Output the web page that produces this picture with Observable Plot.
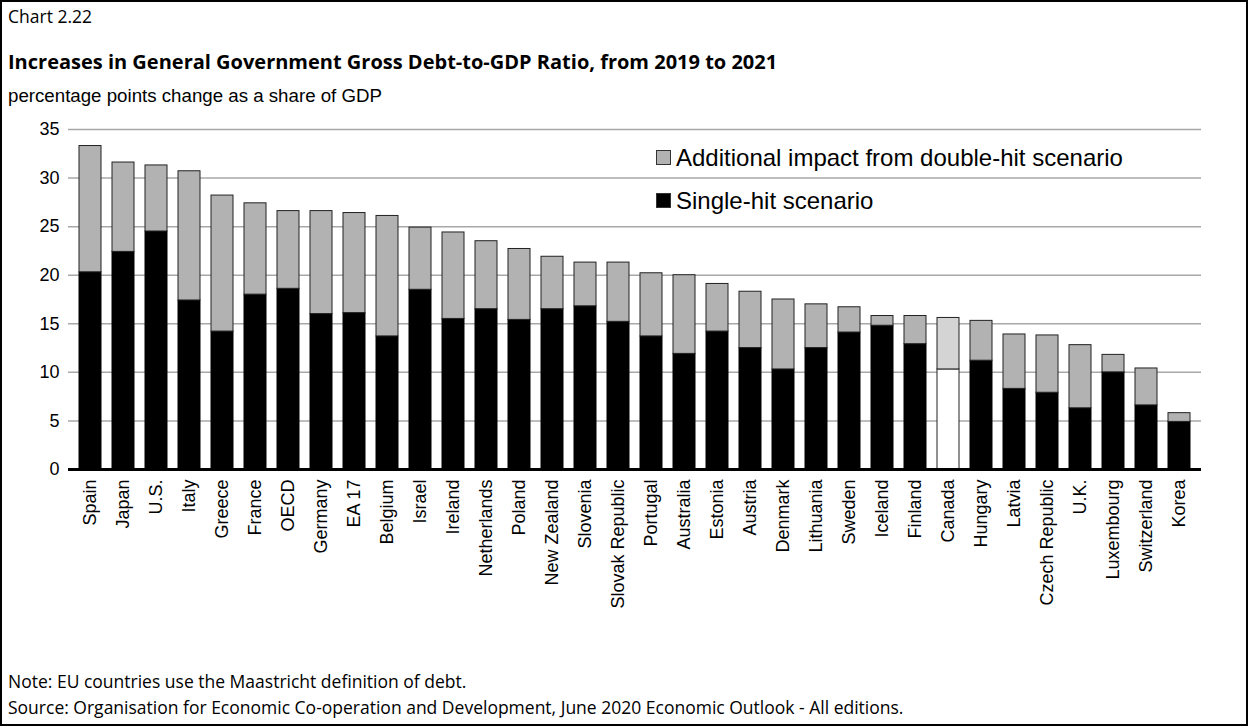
<!DOCTYPE html>
<html><head><meta charset="utf-8">
<script src="https://cdn.jsdelivr.net/npm/d3@7"></script>
<script src="https://cdn.jsdelivr.net/npm/@observablehq/plot@0.6"></script>
<style>
body{margin:0;background:#fff}
#frame{position:relative;width:1244px;height:722px;border:2px solid #000;overflow:hidden;background:#fff}
.seg{font-family:"Open Sans","Noto Sans",sans-serif;color:#000;position:absolute;left:6px;white-space:nowrap}
.ar{font-family:"Liberation Sans",Arial,sans-serif;color:#000;position:absolute;white-space:nowrap}
#chart{position:absolute;left:0;top:108px}
.sw{display:inline-block;width:13px;height:13px;border:1px solid #333;margin-right:5px;vertical-align:1px}
</style></head>
<body>
<div id="frame">
  <div class="seg" style="top:2px;font-size:17.5px">Chart 2.22</div>
  <div class="seg" style="top:46px;font-size:20px;font-weight:bold">Increases in General Government Gross Debt-to-GDP Ratio, from 2019 to 2021</div>
  <div class="ar" style="left:6px;top:83px;font-size:18.7px">percentage points change as a share of GDP</div>
  <div id="chart"></div>
  <div class="ar" style="left:654px;top:142px;font-size:24px"><span class="sw" style="background:#b2b2b2"></span>Additional impact from double-hit scenario</div>
  <div class="ar" style="left:654px;top:185px;font-size:24px"><span class="sw" style="background:#000"></span>Single-hit scenario</div>
  <div class="seg" style="top:667px;font-size:17.5px">Note: EU countries use the Maastricht definition of debt.</div>
  <div class="seg" style="top:693px;font-size:17.5px">Source: Organisation for Economic Co-operation and Development, June 2020 Economic Outlook - All editions.</div>
</div>
<script>
const countries = ["Spain","Japan","U.S.","Italy","Greece","France","OECD","Germany","EA 17","Belgium","Israel","Ireland","Netherlands","Poland","New Zealand","Slovenia","Slovak Republic","Portugal","Australia","Estonia","Austria","Denmark","Lithuania","Sweden","Iceland","Finland","Canada","Hungary","Latvia","Czech Republic","U.K.","Luxembourg","Switzerland","Korea"];
const singleHit = [20.3,22.4,24.5,17.4,14.2,18.0,18.6,16.0,16.1,13.7,18.5,15.5,16.5,15.4,16.5,16.8,15.2,13.7,11.9,14.2,12.5,10.3,12.5,14.1,14.8,12.9,10.3,11.2,8.3,7.9,6.3,10.0,6.6,4.9];
const totalDoubleHit = [33.3,31.6,31.3,30.7,28.2,27.4,26.6,26.6,26.4,26.1,24.9,24.4,23.5,22.7,21.9,21.3,21.3,20.2,20.0,19.1,18.3,17.5,17.0,16.7,15.8,15.8,15.6,15.3,13.9,13.8,12.8,11.8,10.4,5.8];
const seriesNames = ["Single-hit scenario","Additional impact from double-hit scenario"];
const yTicks = [0,5,10,15,20,25,30,35];
const highlight = "Canada";

const rows = [];
countries.forEach((c,i) => {
  rows.push({country:c, series:seriesNames[0], value:singleHit[i]});
  rows.push({country:c, series:seriesNames[1], value:+(totalDoubleHit[i]-singleHit[i]).toFixed(2)});
});
const fillOf = d => d.country === highlight
  ? (d.series === seriesNames[0] ? "#ffffff" : "#d4d4d4")
  : (d.series === seriesNames[0] ? "#000000" : "#b2b2b2");

const chart = Plot.plot({
  width: 1244, height: 540,
  marginLeft: 66, marginRight: 45, marginTop: 19, marginBottom: 181,
  style: {fontFamily: '"Liberation Sans", Arial, sans-serif', fontSize: "18px", color: "#000", background: "transparent"},
  x: {domain: countries, paddingInner: 0.33, paddingOuter: 0.165, label: null},
  y: {domain: [0, 35], label: null},
  marks: [
    Plot.gridY(yTicks.filter(t => t > 0), {stroke: "#a8a8a8", strokeOpacity: 1, strokeWidth: 1.5}),
    Plot.barY(rows, Plot.stackY({order: seriesNames, x: "country", y: "value", z: "series",
      fill: fillOf, stroke: d => d.series === seriesNames[0] && d.country !== highlight ? "#000" : "#222", strokeWidth: 1})),
    Plot.ruleY([0], {stroke: "#000", strokeWidth: 3}),
    Plot.axisY({ticks: yTicks, tickSize: 0, tickPadding: 9, label: null, fontSize: 18}),
    Plot.axisX({tickSize: 0, tickRotate: -90, tickPadding: 10, label: null, fontSize: 18})
  ]
});
document.getElementById("chart").appendChild(chart);
</script>
</body></html>
